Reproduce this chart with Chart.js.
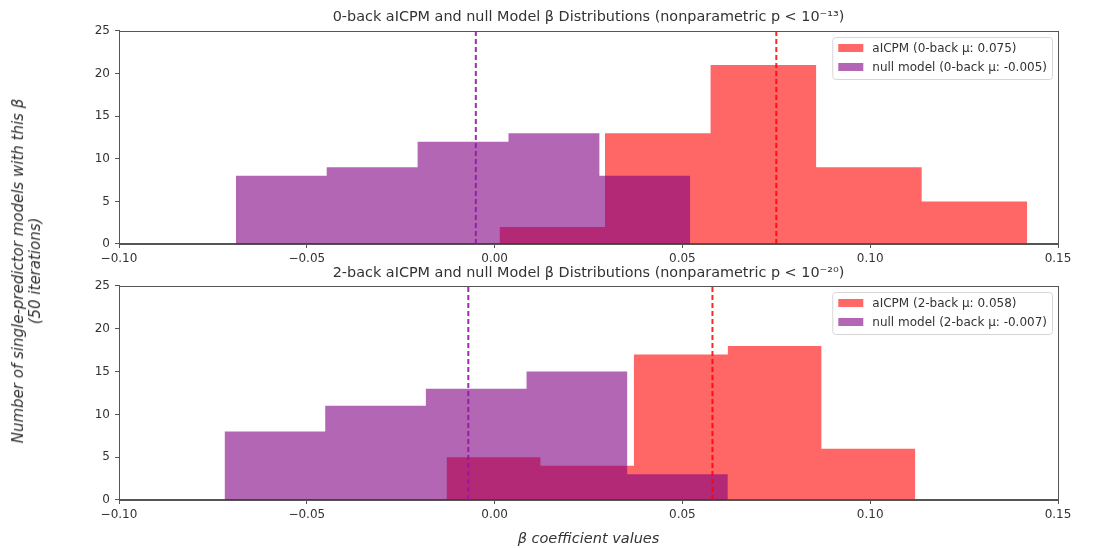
<!DOCTYPE html>
<html><head><meta charset="utf-8">
<script src="https://cdn.jsdelivr.net/npm/chart.js@4.4.0/dist/chart.umd.min.js"></script>
<style>
html,body{margin:0;padding:0;background:#fff;}
body{width:1103px;height:548px;overflow:hidden;position:relative;font-family:'DejaVu Sans',sans-serif;}
#w1{position:absolute;left:0;top:0;width:1103px;height:264px;}
#w2{position:absolute;left:0;top:264px;width:1103px;height:284px;}
#ylab{position:absolute;left:27px;top:271px;transform:translate(-50%,-50%) rotate(-90deg);white-space:nowrap;text-align:center;font-style:italic;font-size:15px;color:#333;line-height:17px;}
</style></head>
<body>
<div id="w1"><canvas id="c1" width="1103" height="264"></canvas></div>
<div id="w2"><canvas id="c2" width="1103" height="284"></canvas></div>
<div id="ylab">Number of single-predictor models with this β<br>(50 iterations)</div>
<script>
// ---- data ----
const xTicks = [-0.10, -0.05, 0.00, 0.05, 0.10, 0.15];
const yTicks = [0, 5, 10, 15, 20, 25];

const topTitle = '0-back aICPM and null Model β Distributions (nonparametric p < 10⁻¹³)';
const topRedLabel = 'aICPM (0-back μ: 0.075)';
const topNullLabel = 'null model (0-back μ: -0.005)';
const topRedEdges  = [0.0013, 0.0294, 0.0575, 0.0856, 0.1137, 0.1418];
const topRedCounts = [2, 13, 21, 9, 5];
const topNullEdges  = [-0.0689, -0.0447, -0.0205, 0.0037, 0.0279, 0.0521];
const topNullCounts = [8, 9, 12, 13, 8];
const topRedMean = 0.075;
const topNullMean = -0.005;

const botTitle = '2-back aICPM and null Model β Distributions (nonparametric p < 10⁻²⁰)';
const botRedLabel = 'aICPM (2-back μ: 0.058)';
const botNullLabel = 'null model (2-back μ: -0.007)';
const botRedEdges  = [-0.0128, 0.0122, 0.0371, 0.0621, 0.0870, 0.1120];
const botRedCounts = [5, 4, 17, 18, 6];
const botNullEdges  = [-0.0719, -0.0451, -0.0183, 0.0085, 0.0353, 0.0621];
const botNullCounts = [8, 11, 13, 15, 3];
const botRedMean = 0.058;
const botNullMean = -0.007;

const xTitle = 'β coefficient values';

// ---- styling ----
const RED_FILL = 'rgba(255,0,0,0.6)';
const NULL_FILL = 'rgba(128,0,128,0.6)';
const RED_LINE = 'rgba(255,0,0,0.85)';
const NULL_LINE = 'rgba(150,20,170,0.9)';
const TXT = '#333';
const AX = '#555';
const FONT = "'DejaVu Sans'";

function histPoints(edges, counts) {
  const pts = counts.map((c, i) => ({x: edges[i], y: c}));
  pts.push({x: edges[edges.length - 1], y: 0});
  return pts;
}
function meanPoints(m) { return [{x: m, y: yTicks[0]}, {x: m, y: yTicks[yTicks.length - 1]}]; }
function fmtX(v) {
  const r = Math.round(v * 100) / 100;
  return (r < 0 ? '\u2212' : '') + Math.abs(r).toFixed(2);
}

const frame = {
  id: 'frame',
  afterDatasetsDraw(chart) {
    const a = chart.chartArea, ctx = chart.ctx;
    ctx.save();
    ctx.strokeStyle = AX; ctx.lineWidth = 1;
    ctx.strokeRect(Math.round(a.left) + 0.5, Math.round(a.top) + 0.5, Math.round(a.right - a.left), Math.round(a.bottom - a.top));
    ctx.restore();
  }
};

const boxLegend = {
  id: 'boxLegend',
  afterDraw(chart, args, opts) {
    const items = opts.items || [];
    const a = chart.chartArea, ctx = chart.ctx;
    ctx.save();
    ctx.font = '12px ' + FONT;
    let tw = 0;
    items.forEach(it => { tw = Math.max(tw, ctx.measureText(it.label).width); });
    const w = 40 + tw + 5, h = 42;
    const x = a.right - 6 - w, y = a.top + 6;
    ctx.beginPath();
    if (ctx.roundRect) ctx.roundRect(x + 0.5, y + 0.5, w, h, 3); else ctx.rect(x + 0.5, y + 0.5, w, h);
    ctx.fillStyle = 'rgba(255,255,255,0.8)';
    ctx.fill();
    ctx.strokeStyle = '#d6d6d6'; ctx.lineWidth = 1; ctx.stroke();
    items.forEach((it, i) => {
      const yy = y + 7 + i * 19;
      ctx.fillStyle = it.color;
      ctx.fillRect(x + 6, yy, 25, 8);
      ctx.fillStyle = TXT;
      ctx.textBaseline = 'middle';
      ctx.textAlign = 'left';
      ctx.fillText(it.label, x + 40, yy + 4.5);
    });
    ctx.restore();
  }
};

function makeChart(id, cfg) {
  return new Chart(document.getElementById(id), {
    type: 'line',
    data: {
      datasets: [
        {label: cfg.redLabel, data: histPoints(cfg.redEdges, cfg.redCounts), stepped: 'before', fill: 'origin',
         backgroundColor: RED_FILL, borderWidth: 0, borderColor: 'rgba(0,0,0,0)', pointRadius: 0, order: 3},
        {label: cfg.nullLabel, data: histPoints(cfg.nullEdges, cfg.nullCounts), stepped: 'before', fill: 'origin',
         backgroundColor: NULL_FILL, borderWidth: 0, borderColor: 'rgba(0,0,0,0)', pointRadius: 0, order: 2},
        {label: 'red mean', data: meanPoints(cfg.redMean), borderColor: RED_LINE, borderWidth: 2, borderDash: [5, 3],
         pointRadius: 0, fill: false, order: 1},
        {label: 'null mean', data: meanPoints(cfg.nullMean), borderColor: NULL_LINE, borderWidth: 2, borderDash: [5, 3],
         pointRadius: 0, fill: false, order: 0}
      ]
    },
    options: {
      responsive: false,
      animation: false,
      events: [],
      layout: {padding: {left: 0, right: 45, top: 0, bottom: 0}},
      plugins: {
        legend: {display: false},
        tooltip: {enabled: false},
        title: {display: true, fullSize: false, text: cfg.title, color: TXT, font: {family: FONT, size: 14.4, weight: 'normal', lineHeight: 1.2},
                padding: cfg.titlePad},
        boxLegend: {items: [{label: cfg.redLabel, color: RED_FILL}, {label: cfg.nullLabel, color: NULL_FILL}]}
      },
      scales: {
        x: {
          type: 'linear', min: xTicks[0], max: xTicks[xTicks.length - 1],
          afterBuildTicks: s => { s.ticks = xTicks.map(v => ({value: v})); },
          afterFit: s => { s.height = cfg.xHeight; },
          ticks: {callback: v => fmtX(v), color: TXT, font: {family: FONT, size: 12}, padding: cfg.xPad, maxRotation: 0, autoSkip: false},
          grid: {drawOnChartArea: false, tickLength: 4, color: AX, tickColor: AX},
          border: {color: AX},
          title: cfg.xTitle ? {display: true, text: cfg.xTitle, color: TXT, font: {family: FONT, size: 14.5, style: 'italic', lineHeight: 1.2}, padding: {top: 2.3, bottom: 0}} : {display: false}
        },
        y: {
          type: 'linear', min: yTicks[0], max: yTicks[yTicks.length - 1],
          afterBuildTicks: s => { s.ticks = yTicks.map(v => ({value: v})); },
          afterFit: s => { s.width = 119; },
          ticks: {color: TXT, font: {family: FONT, size: 12}, padding: 5},
          grid: {drawOnChartArea: false, tickLength: 4, color: AX, tickColor: AX},
          border: {color: AX}
        }
      }
    },
    plugins: [frame, boxLegend]
  });
}

makeChart('c1', {
  title: topTitle, redLabel: topRedLabel, nullLabel: topNullLabel,
  redEdges: topRedEdges, redCounts: topRedCounts, nullEdges: topNullEdges, nullCounts: topNullCounts,
  redMean: topRedMean, nullMean: topNullMean,
  titlePad: {top: 8.4, bottom: 5.3}, xHeight: 20, xPad: 4, xTitle: null
});
makeChart('c2', {
  title: botTitle, redLabel: botRedLabel, nullLabel: botNullLabel,
  redEdges: botRedEdges, redCounts: botRedCounts, nullEdges: botNullEdges, nullCounts: botNullCounts,
  redMean: botRedMean, nullMean: botNullMean,
  titlePad: {top: 0.9, bottom: 3.8}, xHeight: 48, xPad: 4, xTitle: xTitle
});
</script>
</body></html>
